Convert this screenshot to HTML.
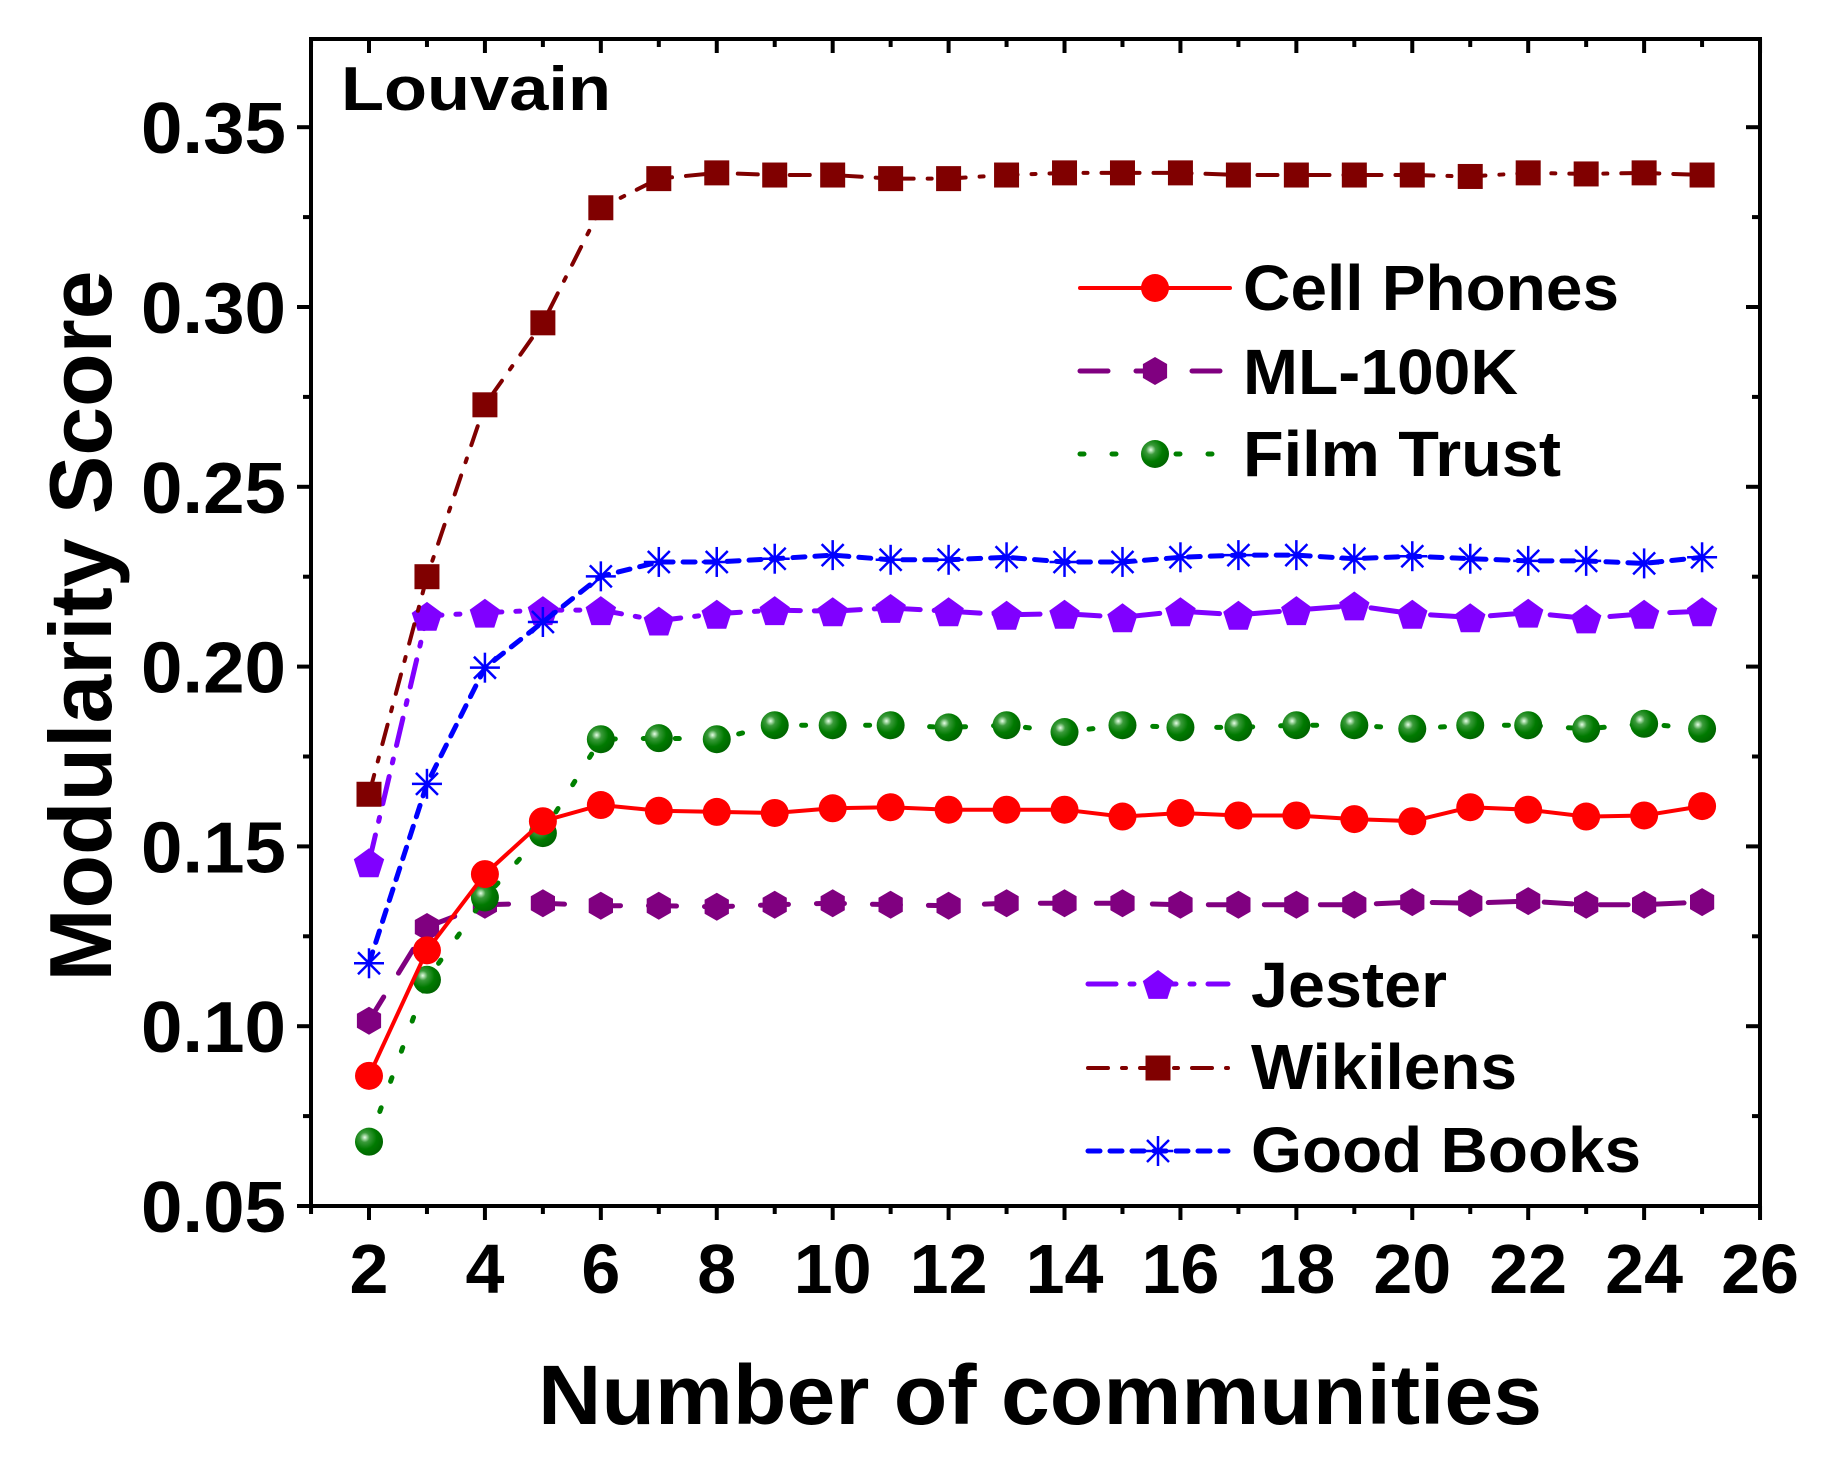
<!DOCTYPE html>
<html><head><meta charset="utf-8"><style>
html,body{margin:0;padding:0;background:#fff;}
svg{display:block;font-family:"Liberation Sans",Arial,sans-serif;font-weight:bold;}
</style></head><body>
<svg id="chart" width="1833" height="1470" viewBox="0 0 1833 1470" xmlns="http://www.w3.org/2000/svg">
<defs>
<radialGradient id="gball" cx="0.35" cy="0.35" r="0.7">
<stop offset="0" stop-color="#e8ffe8"/><stop offset="0.25" stop-color="#3a9a3a"/><stop offset="0.6" stop-color="#007a00"/><stop offset="1" stop-color="#006400"/>
</radialGradient>
</defs>
<g id="plot"></g>
<g id="axes"></g>
<text x="341" y="110" font-size="62" textLength="270" lengthAdjust="spacingAndGlyphs">Louvain</text>
<text x="1040" y="1424" font-size="84" text-anchor="middle" textLength="1004" lengthAdjust="spacingAndGlyphs">Number of communities</text>
<text transform="translate(111,626) rotate(-90)" x="0" y="0" font-size="88" text-anchor="middle" textLength="711" lengthAdjust="spacingAndGlyphs">Modularity Score</text>
<g id="legend"></g>
</svg>
<script>
const xValues = [2,3,4,5,6,7,8,9,10,11,12,13,14,15,16,17,18,19,20,21,22,23,24,25];
const cellPhones = [0.0862,0.1211,0.1423,0.1570,0.1615,0.1599,0.1596,0.1593,0.1606,0.1609,0.1602,0.1602,0.1602,0.1583,0.1593,0.1586,0.1586,0.1576,0.1570,0.1609,0.1602,0.1583,0.1586,0.1612];
const ml100k = [0.1015,0.1276,0.1338,0.1342,0.1335,0.1335,0.1332,0.1338,0.1342,0.1338,0.1335,0.1342,0.1342,0.1342,0.1338,0.1338,0.1338,0.1338,0.1345,0.1342,0.1348,0.1338,0.1338,0.1345];
const filmTrust = [0.0679,0.1129,0.1358,0.1537,0.1798,0.1801,0.1798,0.1837,0.1837,0.1837,0.1831,0.1837,0.1818,0.1837,0.1831,0.1831,0.1837,0.1837,0.1827,0.1837,0.1837,0.1827,0.1841,0.1827];
const jester = [0.1456,0.2141,0.2150,0.2157,0.2157,0.2128,0.2147,0.2157,0.2154,0.2163,0.2154,0.2144,0.2147,0.2137,0.2154,0.2144,0.2157,0.2170,0.2147,0.2137,0.2150,0.2134,0.2147,0.2154];
const wikilens = [0.1645,0.2250,0.2728,0.2956,0.3276,0.3357,0.3373,0.3367,0.3367,0.3357,0.3357,0.3367,0.3373,0.3373,0.3373,0.3367,0.3367,0.3367,0.3367,0.3363,0.3373,0.3370,0.3373,0.3367];
const goodBooks = [0.1175,0.1674,0.1997,0.2124,0.2251,0.2291,0.2291,0.2300,0.2310,0.2297,0.2297,0.2304,0.2291,0.2291,0.2304,0.2310,0.2310,0.2300,0.2307,0.2300,0.2294,0.2294,0.2287,0.2304];
const xTicks = [2,4,6,8,10,12,14,16,18,20,22,24,26];
const yTicks = [0.05,0.10,0.15,0.20,0.25,0.30,0.35];
const yTickLabels = ["0.05","0.10","0.15","0.20","0.25","0.30","0.35"];

const NS = "http://www.w3.org/2000/svg";
const L = 311, R = 1760, T = 39, B = 1206;
function xs(v){ return 369 + (v - 2) * 57.96; }
function ys(v){ return 1206 - (v - 0.05) / 0.05 * 179.8; }
function mk(tag, attrs, parent){
  const e = document.createElementNS(NS, tag);
  for (const k in attrs) e.setAttribute(k, attrs[k]);
  parent.appendChild(e);
  return e;
}
const plot = document.getElementById('plot');
const axes = document.getElementById('axes');
const legend = document.getElementById('legend');

function marker(type, x, y, color, parent){
  let e;
  if (type === 'circle') {
    e = mk('circle', {cx:x, cy:y, r:14, fill:color}, parent);
  } else if (type === 'ball') {
    e = mk('circle', {cx:x, cy:y, r:14, fill:'url(#gball)'}, parent);
  } else if (type === 'hex') {
    const p = [];
    for (let i=0;i<6;i++){ const a = Math.PI/2 + i*Math.PI/3; p.push((x+14*Math.cos(a)).toFixed(1)+','+(y+14*Math.sin(a)).toFixed(1)); }
    e = mk('polygon', {points:p.join(' '), fill:color}, parent);
  } else if (type === 'pent') {
    const p = [];
    for (let i=0;i<5;i++){ const a = -Math.PI/2 + i*2*Math.PI/5; p.push((x+16*Math.cos(a)).toFixed(1)+','+(y+2+16*Math.sin(a)).toFixed(1)); }
    e = mk('polygon', {points:p.join(' '), fill:color}, parent);
  } else if (type === 'square') {
    e = mk('rect', {x:x-12.5, y:y-12.5, width:25, height:25, fill:color}, parent);
  } else if (type === 'star') {
    e = mk('g', {stroke:color, 'stroke-width':2.5}, parent);
    mk('line',{x1:x-15,y1:y,x2:x+15,y2:y},e);
    mk('line',{x1:x,y1:y-15,x2:x,y2:y+15},e);
    mk('line',{x1:x-11,y1:y-11,x2:x+11,y2:y+11},e);
    mk('line',{x1:x-11,y1:y+11,x2:x+11,y2:y-11},e);
  }
  return e;
}

const series = [
  {name:'cell-phones', label:'Cell Phones', data:cellPhones, color:'#ff0000', dash:'', m:'circle', lw:4},
  {name:'ml-100k', label:'ML-100K', data:ml100k, color:'#800080', dash:'28 28', m:'hex', lw:5},
  {name:'film-trust', label:'Film Trust', data:filmTrust, color:'#008000', dash:'4 28', m:'ball', lw:5},
  {name:'jester', label:'Jester', data:jester, color:'#8000ff', dash:'28 14 4 14', m:'pent', lw:5},
  {name:'wikilens', label:'Wikilens', data:wikilens, color:'#800000', dash:'20 14 4 14', m:'square', lw:4},
  {name:'good-books', label:'Good Books', data:goodBooks, color:'#0000ff', dash:'12 10', m:'star', lw:5}
];
const order = ['ml-100k','film-trust','cell-phones','jester','good-books','wikilens'];
order.forEach(function(nm){
  const s = series.find(function(q){return q.name===nm;});
  const g = mk('g', {}, plot);
  
  
  const pts = s.data.map(function(v,i){ return xs(xValues[i]).toFixed(1)+','+ys(v).toFixed(1); }).join(' ');
  const line = mk('polyline', {points:pts, fill:'none', stroke:s.color, 'stroke-width':s.lw, 'stroke-linecap':'round', 'stroke-linejoin':'round'}, g);
  if (s.dash) line.setAttribute('stroke-dasharray', s.dash);
  
  
  s.data.forEach(function(v,i){
    const m = marker(s.m, xs(xValues[i]), ys(v), s.color, g);
    
    
  });
});

const frame = mk('rect', {x:L, y:T, width:R-L, height:B-T, fill:'none', stroke:'#000', 'stroke-width':4}, axes);


for (let v=1; v<=26; v++){
  const x = xs(v);
  const major = (v % 2 === 0);
  const len = major ? 14 : 8;
  mk('line', {x1:x, y1:B, x2:x, y2:B+len, stroke:'#000', 'stroke-width':4}, axes);
  mk('line', {x1:x, y1:T, x2:x, y2:T+len, stroke:'#000', 'stroke-width':4}, axes);
}
xTicks.forEach(function(v){
  const t = mk('text', {x:xs(v), y:1293, 'font-size':70, 'text-anchor':'middle'}, axes);
  t.textContent = String(v);
  
  
});
for (let k=0; k<=13; k++){
  const v = 0.05 + k*0.025;
  const y = ys(v);
  if (y < T) continue;
  const major = (k % 2 === 0);
  const len = major ? 14 : 8;
  mk('line', {x1:L, y1:y, x2:L-len, y2:y, stroke:'#000', 'stroke-width':4}, axes);
  mk('line', {x1:R, y1:y, x2:R-len, y2:y, stroke:'#000', 'stroke-width':4}, axes);
}
yTicks.forEach(function(v,i){
  const t = mk('text', {x:286, y:ys(v)+26, 'font-size':72, 'text-anchor':'end', textLength:145, lengthAdjust:'spacingAndGlyphs'}, axes);
  t.textContent = yTickLabels[i];
  
  
});

const legPos = {
  'cell-phones':{x1:1080,x2:1230,y:288,tx:1243,ty:310,tl:376},
  'ml-100k':{x1:1080,x2:1230,y:371,tx:1243,ty:394,tl:275},
  'film-trust':{x1:1080,x2:1230,y:454,tx:1243,ty:476,tl:318},
  'jester':{x1:1088,x2:1228,y:984,tx:1251,ty:1007,tl:196},
  'wikilens':{x1:1088,x2:1228,y:1068,tx:1251,ty:1089,tl:266},
  'good-books':{x1:1088,x2:1228,y:1151,tx:1251,ty:1172,tl:390}
};
series.forEach(function(s){
  const p = legPos[s.name];
  const g = mk('g', {}, legend);
  
  
  const ln = mk('line', {x1:p.x1, y1:p.y, x2:p.x2, y2:p.y, stroke:s.color, 'stroke-width':s.lw, 'stroke-linecap':'round'}, g);
  if (s.dash) ln.setAttribute('stroke-dasharray', s.dash);
  marker(s.m, (p.x1+p.x2)/2, p.y, s.color, g);
  const t = mk('text', {x:p.tx, y:p.ty, 'font-size':64, textLength:p.tl, lengthAdjust:'spacingAndGlyphs'}, g);
  t.textContent = s.label;
});
</script>
</body></html>
